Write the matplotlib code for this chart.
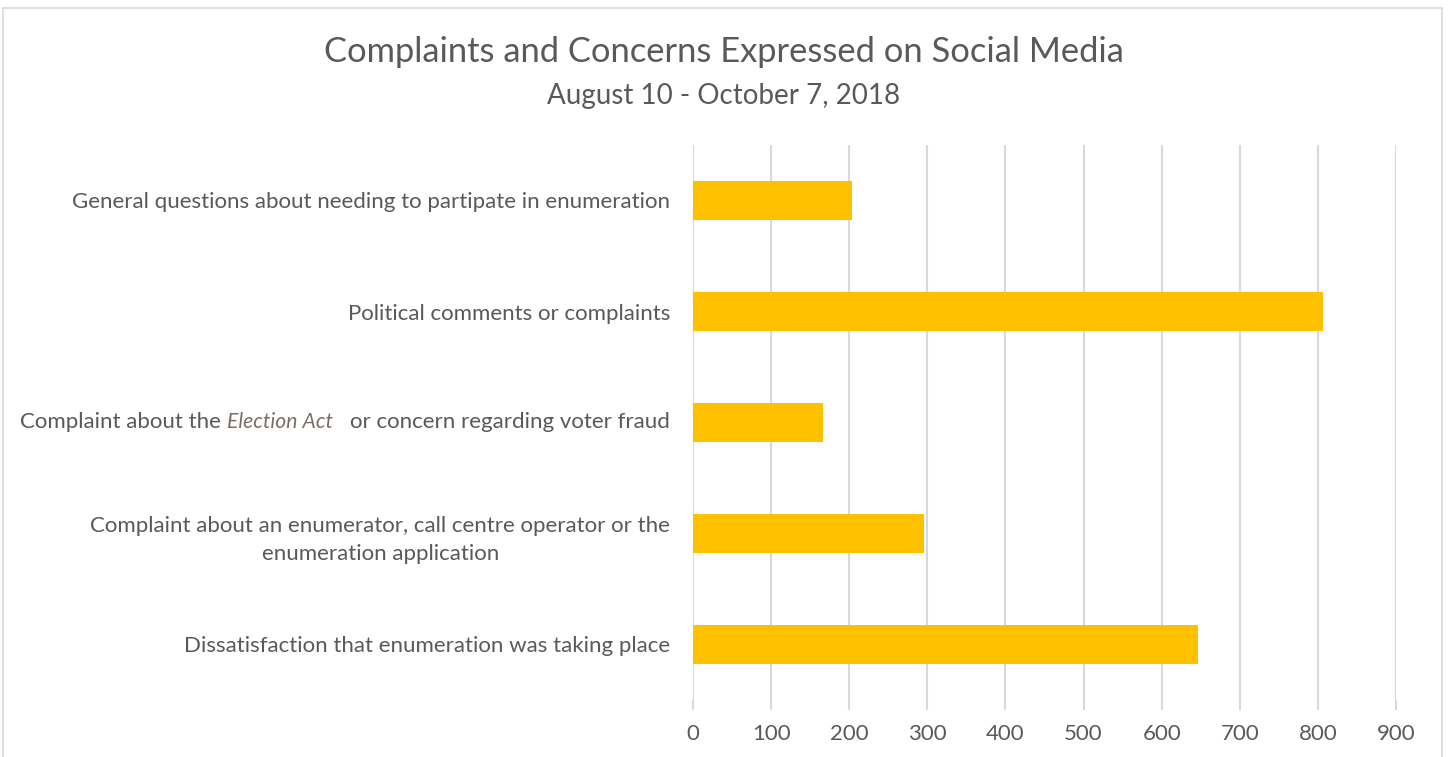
import matplotlib
matplotlib.use("Agg")
import matplotlib.pyplot as plt
from matplotlib.patches import Rectangle

categories = [
    "General questions about needing to partipate in enumeration",
    "Political comments or complaints",
    "Complaint about the Election Act or concern regarding voter fraud",
    "Complaint about an enumerator, call centre operator or the\nenumeration application",
    "Dissatisfaction that enumeration was taking place",
]
values = [203, 807, 166, 296, 647]
xticks = [0, 100, 200, 300, 400, 500, 600, 700, 800, 900]

FONT = "Lato"
TXT = "#595959"
plt.rcParams["font.family"] = [FONT, "DejaVu Sans"]

W, H = 1448, 757
fig = plt.figure(figsize=(W / 100, H / 100), dpi=100)
fig.patch.set_facecolor("white")

# outer chart frame
fig.add_artist(Rectangle((3 / W, -0.05), (1442 - 3) / W, 1 - 8 / H + 0.05,
                         transform=fig.transFigure, fill=False,
                         edgecolor="#d9d9d9", linewidth=1.2))

left, right, top, bottom = 693 / W, 1396 / W, 1 - 145 / H, 1 - 700 / H
ax = fig.add_axes([left, bottom, right - left, top - bottom])

LFS = 16
n = len(categories)
ypos = list(range(n))
ax.barh(ypos, values, height=0.35, color="#FFC000", zorder=3)
ax.set_ylim(n - 0.5, -0.5)
ax.set_xlim(0, 900)
ax.set_xticks(xticks)
ax.set_xticklabels([str(t) for t in xticks], fontsize=LFS, color=TXT)
ax.grid(axis="x", color="#d9d9d9", linewidth=1.5, zorder=0)
for s in ax.spines.values():
    s.set_visible(False)
ax.tick_params(axis="x", length=7, width=1.5, color="#d9d9d9", pad=10.5)
PAD = 16.5
ax.tick_params(axis="y", length=0, pad=PAD)
ax.set_yticks(ypos)
labels = list(categories)
labels[2] = ""
ax.set_yticklabels(labels, fontsize=LFS, color=TXT)
for lab in ax.get_yticklabels():
    lab.set_multialignment("center")
    lab.set_linespacing(1.55)

# mixed-style label for the Election Act category
fig.canvas.draw()
r = fig.canvas.get_renderer()
pad_px = PAD * 100 / 72
x0_disp = ax.transData.transform((0, 2))[0] - pad_px
y_disp = ax.transData.transform((0, 2))[1]
parts = [
    ("or concern regarding voter fraud", dict(color=TXT, style="normal", fontsize=LFS)),
    ("   ", dict(color=TXT, style="normal", fontsize=LFS)),
    ("Election Act", dict(color="#7a6e66", style="italic", fontsize=15.2)),
    ("Complaint about the ", dict(color=TXT, style="normal", fontsize=LFS)),
]
xcur = x0_disp
for txt, kw in parts:
    t = fig.text(xcur / W, y_disp / H, txt, ha="right", va="center", **kw)
    bb = t.get_window_extent(renderer=r)
    xcur -= bb.width

fig.text(0.5, 1 - 52 / H, "Complaints and Concerns Expressed on Social Media",
         ha="center", va="center", fontsize=24.8, color=TXT)
fig.text(0.5, 1 - 96 / H, "August 10 - October 7, 2018",
         ha="center", va="center", fontsize=20, color=TXT)

fig.savefig("out.png", dpi=100, facecolor="white")
